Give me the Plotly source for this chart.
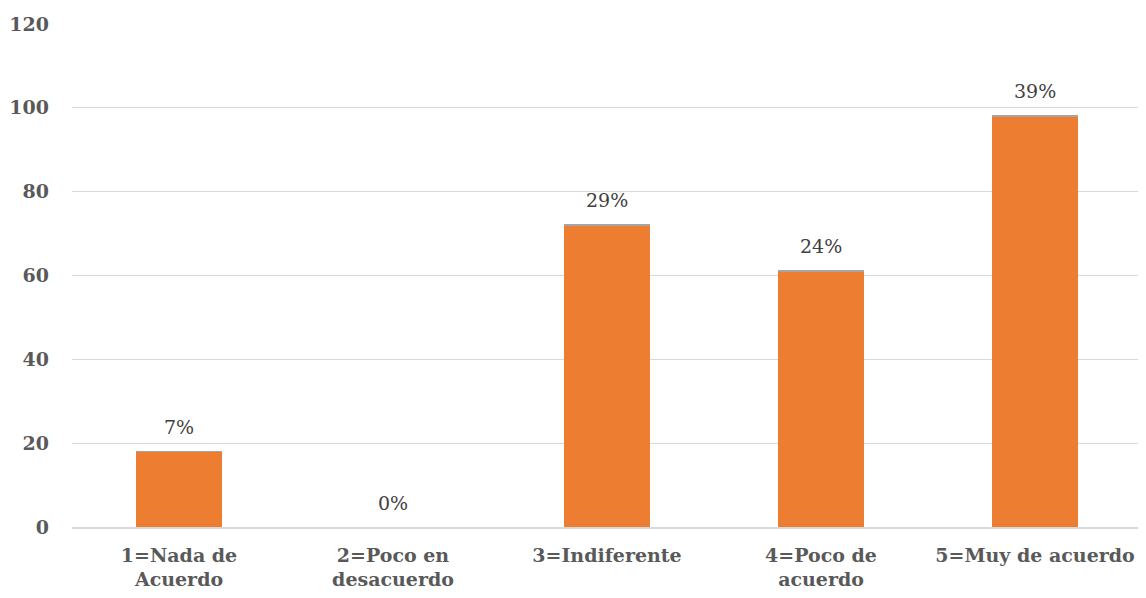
import plotly.graph_objects as go

categories = ["1=Nada de<br>Acuerdo", "2=Poco en<br>desacuerdo", "3=Indiferente", "4=Poco de<br>acuerdo", "5=Muy de acuerdo"]
counts = [18, 0, 72, 61, 98]
percents = [0.07, 0.0, 0.29, 0.24, 0.39]
tick_vals = [0, 20, 40, 60, 80, 100, 120]

font_family = "DejaVu Serif"

fig = go.Figure()
fig.add_trace(go.Bar(x=categories, y=counts, marker=dict(color="#ED7D31", line=dict(width=0)), name="Cantidad"))
fig.add_trace(go.Bar(x=categories, y=percents, marker=dict(color="#A5A5A5", line=dict(width=0)), name="Porcentaje"))

for c, n, p in zip(categories, counts, percents):
    fig.add_annotation(x=c, y=n + p, text=f"{p:.0%}", showarrow=False, yanchor="bottom", yshift=11,
                       font=dict(family=font_family, size=19, color="#404040"))

fig.update_layout(
    barmode="stack",
    bargap=0.6,
    width=1146, height=598,
    margin=dict(l=64, r=12, t=16, b=79),
    plot_bgcolor="white", paper_bgcolor="white",
    showlegend=False,
    font=dict(family=font_family, size=19, color="#595959"),
)
fig.update_xaxes(showline=True, linecolor="#D9D9D9", linewidth=1.5, ticks="", showgrid=False, automargin=False,
                 ticklabelstandoff=10,
                 tickfont=dict(family=font_family, size=19, color="#595959", weight="bold"))
fig.update_yaxes(range=[0, 120], tickvals=tick_vals, showgrid=True, gridcolor="#D9D9D9", gridwidth=1.2,
                 zeroline=False, showline=False, ticks="", ticklabelstandoff=22, automargin=False,
                 tickfont=dict(family=font_family, size=19, color="#595959", weight="bold"))

fig.write_html("out.html")
